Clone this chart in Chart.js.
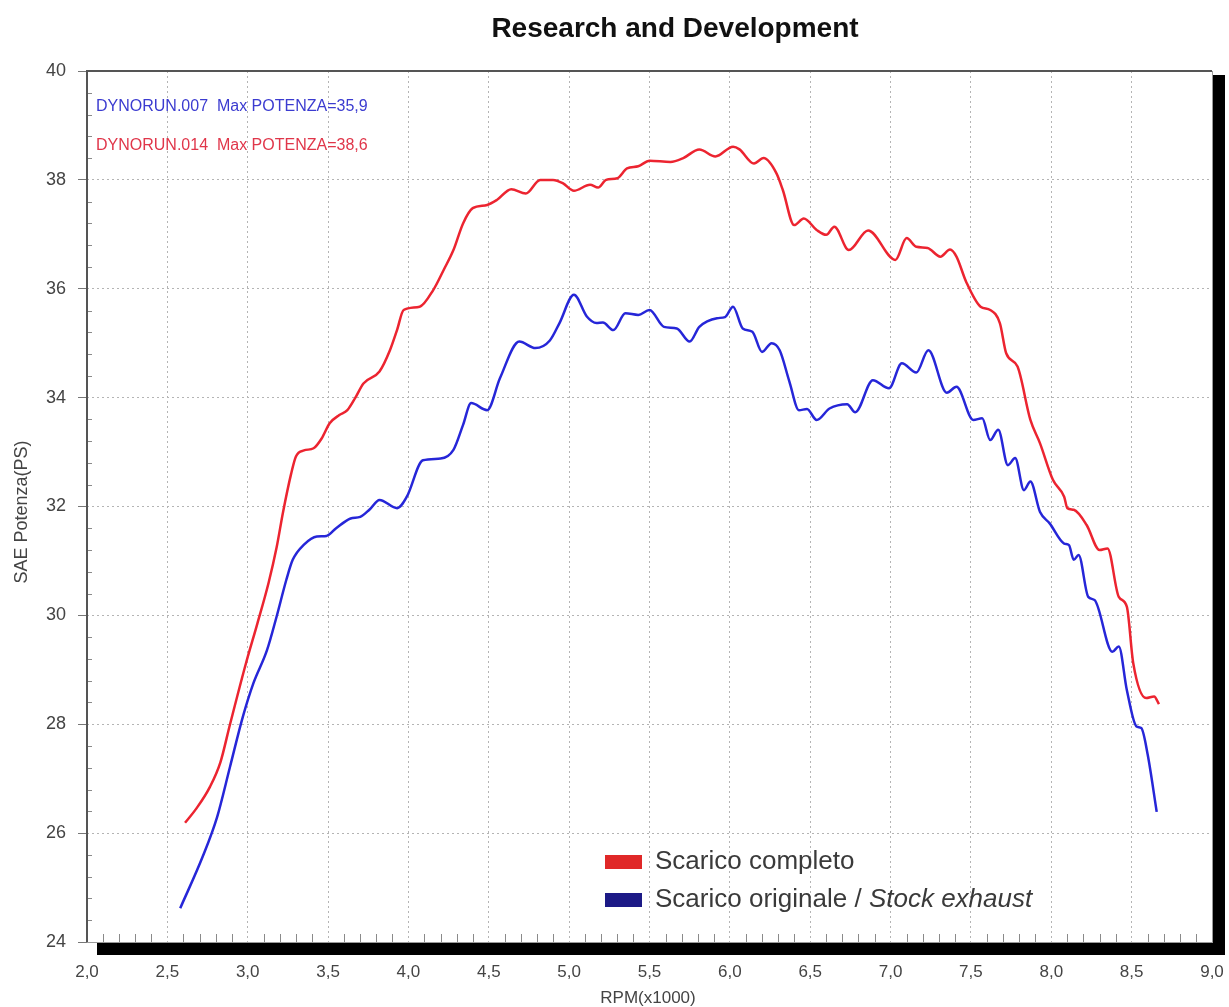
<!DOCTYPE html>
<html>
<head>
<meta charset="utf-8">
<script src="https://cdn.jsdelivr.net/npm/chart.js@4.4.1/dist/chart.umd.min.js"></script>
<style>
  html, body { margin: 0; padding: 0; background: #fff; }
  #wrap { width: 1229px; height: 1007px; }
</style>
</head>
<body>
<div id="wrap"><canvas id="dyno"></canvas></div>
<script>
// dyno run data (RPM x1000 -> SAE PS)
const rpmFull = [2.61, 2.68, 2.765, 2.83, 2.89, 2.99, 3.06, 3.13, 3.18, 3.22, 3.27, 3.30, 3.35, 3.41, 3.46, 3.51, 3.57, 3.62, 3.67, 3.72,
  3.82, 3.885, 3.93, 3.97, 4.07, 4.155, 4.22, 4.28, 4.34, 4.40, 4.49, 4.55, 4.64, 4.73, 4.82, 4.90, 4.96, 5.03, 5.13, 5.18,
  5.23, 5.30, 5.36, 5.43, 5.50, 5.63, 5.71, 5.81, 5.91, 6.02, 6.06, 6.15, 6.21, 6.29, 6.33, 6.40, 6.46, 6.54, 6.60, 6.65,
  6.74, 6.86, 7.03, 7.10, 7.16, 7.23, 7.31, 7.37, 7.41, 7.47, 7.56, 7.62, 7.68, 7.72, 7.79, 7.87, 7.93, 8.01, 8.08, 8.10,
  8.14, 8.22, 8.30, 8.35, 8.42, 8.47, 8.51, 8.59, 8.64, 8.67];
const psFull = [26.19, 26.45, 26.85, 27.3, 28.0, 29.13, 29.85, 30.6, 31.25, 31.9, 32.6, 32.92, 33.03, 33.07, 33.25, 33.53, 33.68, 33.77, 34.0, 34.26,
  34.48, 34.87, 35.25, 35.61, 35.67, 35.98, 36.35, 36.71, 37.2, 37.48, 37.54, 37.63, 37.83, 37.75, 38.0, 38.0, 37.94, 37.80, 37.91, 37.86,
  38.0, 38.03, 38.21, 38.25, 38.35, 38.33, 38.40, 38.56, 38.43, 38.61, 38.56, 38.30, 38.40, 38.12, 37.81, 37.17, 37.29, 37.08, 36.99, 37.14,
  36.71, 37.07, 36.53, 36.93, 36.77, 36.75, 36.59, 36.72, 36.59, 36.13, 35.67, 35.61, 35.37, 34.81, 34.57, 33.59, 33.16, 32.49, 32.18, 31.97,
  31.94, 31.66, 31.20, 31.23, 30.34, 30.16, 29.12, 28.48, 28.51, 28.37];

const rpmStock = [2.58, 2.72, 2.81, 2.89, 2.97, 3.035, 3.12, 3.18, 3.24, 3.28, 3.35, 3.43, 3.49, 3.55, 3.64, 3.70, 3.76, 3.82, 3.93, 3.99,
  4.09, 4.20, 4.28, 4.34, 4.39, 4.49, 4.57, 4.69, 4.79, 4.88, 4.94, 5.03, 5.11, 5.17, 5.21, 5.275, 5.35, 5.43, 5.50, 5.59,
  5.67, 5.75, 5.81, 5.92, 5.97, 6.02, 6.08, 6.14, 6.20, 6.26, 6.31, 6.37, 6.43, 6.48, 6.54, 6.62, 6.73, 6.78, 6.89, 6.99,
  7.07, 7.16, 7.235, 7.35, 7.41, 7.515, 7.57, 7.62, 7.67, 7.73, 7.775, 7.83, 7.87, 7.93, 7.99, 8.08, 8.11, 8.14, 8.17, 8.23,
  8.27, 8.38, 8.42, 8.47, 8.53, 8.56, 8.60, 8.656];
const psStock = [24.62, 25.57, 26.30, 27.22, 28.14, 28.75, 29.36, 29.98, 30.65, 31.02, 31.30, 31.45, 31.46, 31.6, 31.78, 31.81, 31.95, 32.12, 31.97, 32.18,
  32.85, 32.88, 33.04, 33.5, 33.90, 33.77, 34.36, 35.03, 34.91, 35.05, 35.37, 35.89, 35.49, 35.37, 35.38, 35.24, 35.55, 35.52, 35.61, 35.30,
  35.27, 35.03, 35.30, 35.46, 35.48, 35.67, 35.27, 35.21, 34.84, 35.0, 34.87, 34.3, 33.77, 33.79, 33.59, 33.80, 33.88, 33.73, 34.32, 34.17,
  34.63, 34.46, 34.87, 34.09, 34.20, 33.59, 33.62, 33.22, 33.41, 32.76, 32.89, 32.30, 32.46, 31.90, 31.69, 31.32, 31.29, 31.02, 31.11, 30.34,
  30.28, 29.33, 29.43, 28.63, 27.96, 27.93, 27.44, 26.39];

const legendLabels = ['Scarico completo', 'Scarico originale / '];
const legendItalic = ['', 'Stock exhaust'];
const runNotes = ['DYNORUN.007  Max POTENZA=35,9', 'DYNORUN.014  Max POTENZA=38,6'];

const FONT = '"Liberation Sans", Arial, sans-serif';
const RED = '#ec2430';
const BLUE = '#2626d8';

function toXY(xs, ys) {
  return xs.map((x, i) => ({ x: x, y: ys[i] }));
}

// frame, shadow, minor ticks and all free text
const decor = {
  id: 'decor',
  beforeDatasetsDraw(chart) {
    const { ctx, chartArea: a, scales: { x, y } } = chart;
    ctx.save();
    ctx.strokeStyle = '#8a8a8a';
    ctx.lineWidth = 1;
    ctx.beginPath();
    for (let i = 21; i < 90; i++) {
      if (i % 5 === 0) continue;
      const px = Math.round(x.getPixelForValue(i / 10)) + 0.5;
      ctx.moveTo(px, a.bottom);
      ctx.lineTo(px, a.bottom - 8);
    }
    for (let i = 0; i <= 40; i++) {
      if (i % 5 === 0) continue;
      const py = Math.round(y.getPixelForValue(24 + i * 0.4)) + 0.5;
      ctx.moveTo(a.left, py);
      ctx.lineTo(a.left + 5, py);
    }
    ctx.stroke();
    ctx.restore();
  },
  afterDraw(chart) {
    const { ctx, chartArea: a } = chart;
    ctx.save();
    // black drop shadow
    ctx.fillStyle = '#000';
    ctx.fillRect(a.right + 1, a.top + 4, 12, a.bottom - a.top + 9);
    ctx.fillRect(a.left + 10, a.bottom + 1, a.right - a.left + 3, 12);
    // frame
    ctx.strokeStyle = '#9a9a9a';
    ctx.lineWidth = 1;
    ctx.strokeRect(a.left + 0.5, a.top + 0.5, a.right - a.left, a.bottom - a.top);
    ctx.strokeStyle = '#555';
    ctx.lineWidth = 2;
    ctx.beginPath();
    ctx.moveTo(a.left, a.bottom);
    ctx.lineTo(a.left, a.top);
    ctx.lineTo(a.right, a.top);
    ctx.stroke();

    // title
    ctx.fillStyle = '#111';
    ctx.font = 'bold 28px ' + FONT;
    ctx.textAlign = 'center';
    ctx.textBaseline = 'alphabetic';
    ctx.fillText('Research and Development', 675, 37);

    // axis titles
    ctx.fillStyle = '#444';
    ctx.font = '17px ' + FONT;
    ctx.fillText('RPM(x1000)', 648, 1003);
    ctx.save();
    ctx.translate(22, 512);
    ctx.rotate(-Math.PI / 2);
    ctx.textBaseline = 'middle';
    ctx.font = '18px ' + FONT;
    ctx.fillText('SAE Potenza(PS)', 0, 0);
    ctx.restore();

    // run notes
    ctx.textAlign = 'left';
    ctx.font = '16px ' + FONT;
    ctx.fillStyle = '#3b3bd0';
    ctx.fillText(runNotes[0], 96, 111);
    ctx.fillStyle = '#e0364a';
    ctx.fillText(runNotes[1], 96, 150);

    // legend
    const boxes = ['#e02828', '#1c1a86'];
    const rows = [869, 907];
    for (let i = 0; i < 2; i++) {
      ctx.fillStyle = boxes[i];
      ctx.fillRect(605, rows[i] - 14, 37, 14);
      ctx.fillStyle = '#3a3a3a';
      ctx.font = '26px ' + FONT;
      ctx.fillText(legendLabels[i], 655, rows[i]);
      if (legendItalic[i]) {
        const w = ctx.measureText(legendLabels[i]).width;
        ctx.font = 'italic 26px ' + FONT;
        ctx.fillText(legendItalic[i], 655 + w, rows[i]);
      }
    }
    ctx.restore();
  }
};

new Chart(document.getElementById('dyno'), {
  type: 'line',
  data: {
    datasets: [
      {
        label: 'Scarico completo',
        data: toXY(rpmFull, psFull),
        borderColor: RED,
        borderWidth: 2.5,
        pointRadius: 0,
        cubicInterpolationMode: 'monotone'
      },
      {
        label: 'Scarico originale / Stock exhaust',
        data: toXY(rpmStock, psStock),
        borderColor: BLUE,
        borderWidth: 2.5,
        pointRadius: 0,
        cubicInterpolationMode: 'monotone'
      }
    ]
  },
  options: {
    responsive: true,
    maintainAspectRatio: false,
    animation: false,
    layout: { padding: { left: 0, top: 71, right: 17, bottom: 0 } },
    plugins: { legend: { display: false }, tooltip: { enabled: false } },
    scales: {
      x: {
        type: 'linear',
        min: 2, max: 9,
        afterFit(s) { s.height = 65; s.paddingLeft = 0; s.paddingRight = 0; },
        border: { display: false, dash: [2, 3] },
        grid: { color: '#b4b4b4', drawTicks: false },
        ticks: {
          stepSize: 0.5,
          padding: 20,
          color: '#444',
          font: { family: FONT, size: 17 },
          maxRotation: 0,
          callback: v => v.toFixed(1).replace('.', ',')
        }
      },
      y: {
        min: 24, max: 40,
        afterFit(s) { s.width = 87; s.paddingTop = 0; s.paddingBottom = 0; },
        border: { display: false, dash: [2, 3] },
        grid: { color: '#b4b4b4', tickLength: 9, tickColor: '#777' },
        ticks: {
          stepSize: 2,
          padding: 12,
          color: '#444',
          font: { family: FONT, size: 18 }
        }
      }
    }
  },
  plugins: [decor]
});
</script>
</body>
</html>
